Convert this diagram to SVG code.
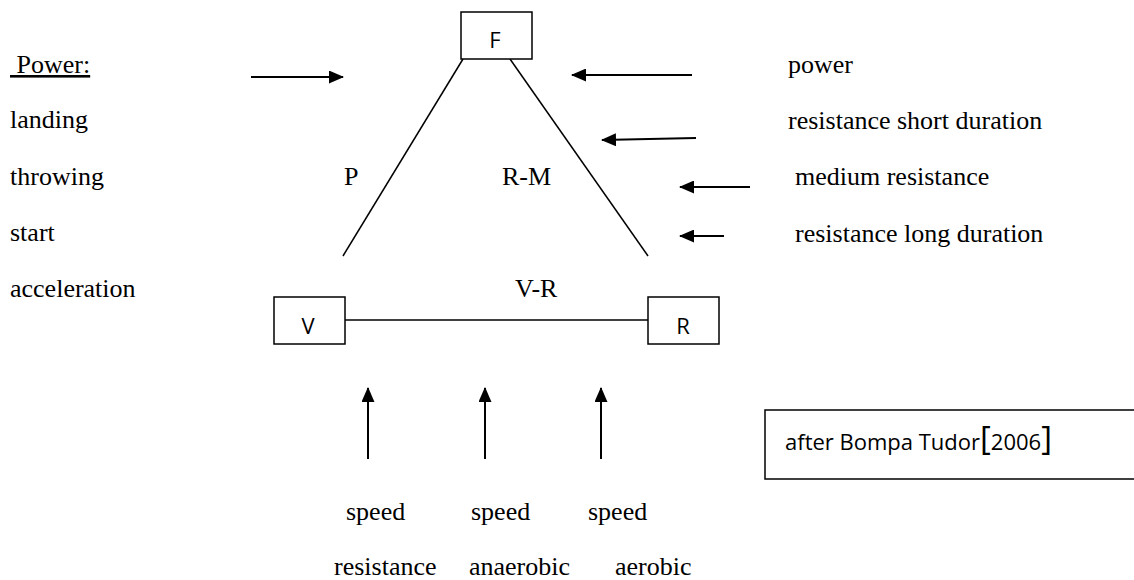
<svg xmlns="http://www.w3.org/2000/svg" width="1134" height="580" viewBox="0 0 1134 580">
<defs>
<marker id="ah" viewBox="0 0 15 13" refX="14" refY="6.5" markerWidth="15" markerHeight="13" markerUnits="userSpaceOnUse" orient="auto">
<path d="M0,0 L15,6.5 L0,13 z" fill="#000"/>
</marker>
<style>
.t{font-family:"Liberation Serif","Times New Roman",serif;font-size:26px;fill:#000}
.s{font-family:"Open Sans","Liberation Sans",sans-serif;font-size:22px;fill:#000}
.box{fill:#fff;stroke:#000;stroke-width:1.5}
.ln{stroke:#000;stroke-width:1.5;fill:none}
.ar{stroke:#000;stroke-width:2;fill:none;marker-end:url(#ah)}
</style>
</defs>
<rect width="1134" height="580" fill="#fff"/>
<g id="connectors">
<line class="ln" x1="463" y1="59" x2="343" y2="256"/>
<line class="ln" x1="510" y1="59" x2="648" y2="256"/>
<line class="ln" x1="345" y1="320" x2="648" y2="320"/>
<line class="ar" x1="251" y1="77" x2="343" y2="77"/>
<line class="ar" x1="692" y1="75" x2="572" y2="75"/>
<line class="ar" x1="696" y1="138" x2="602" y2="140"/>
<line class="ar" x1="750" y1="187" x2="680" y2="187"/>
<line class="ar" x1="724" y1="236" x2="680" y2="236"/>
<line class="ar" x1="368" y1="459" x2="368" y2="388"/>
<line class="ar" x1="485" y1="459" x2="485" y2="388"/>
<line class="ar" x1="601" y1="459" x2="601" y2="388"/>
</g>
<g id="node-F">
<rect class="box" x="461" y="12" width="71" height="47"/>
<text class="s" x="495" y="48" text-anchor="middle">F</text>
</g>
<g id="node-V">
<rect class="box" x="274" y="297" width="71" height="47"/>
<text class="s" x="308" y="334" text-anchor="middle">V</text>
</g>
<g id="node-R">
<rect class="box" x="648" y="297" width="71" height="47"/>
<text class="s" x="683" y="334" text-anchor="middle">R</text>
</g>
<g id="labels">
<text class="t" x="10" y="73" text-decoration="underline" xml:space="preserve"> Power:</text>
<text class="t" x="10" y="128">landing</text>
<text class="t" x="10" y="185">throwing</text>
<text class="t" x="10" y="241">start</text>
<text class="t" x="10" y="297">acceleration</text>
<text class="t" x="344" y="185">P</text>
<text class="t" x="502" y="185">R-M</text>
<text class="t" x="515" y="297">V-R</text>
<text class="t" x="788" y="73">power</text>
<text class="t" x="788" y="129">resistance short duration</text>
<text class="t" x="795" y="185">medium resistance</text>
<text class="t" x="795" y="242">resistance long duration</text>
<text class="t" x="346" y="520">speed</text>
<text class="t" x="471" y="520">speed</text>
<text class="t" x="588" y="520">speed</text>
<text class="t" x="334" y="575">resistance</text>
<text class="t" x="469" y="575">anaerobic</text>
<text class="t" x="615" y="575">aerobic</text>
</g>
<g id="node-citation">
<rect class="box" x="765" y="410" width="380" height="69"/>
<text class="s" x="785" y="450" font-size="25.5">after Bompa Tudor<tspan font-size="33">[</tspan>2006<tspan font-size="33">]</tspan></text>
</g>
</svg>
